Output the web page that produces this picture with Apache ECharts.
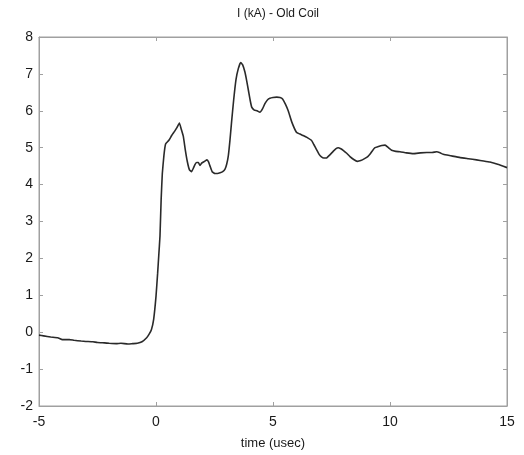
<!DOCTYPE html>
<html>
<head>
<meta charset="utf-8">
<script src="https://cdn.jsdelivr.net/npm/echarts@6/dist/echarts.min.js"></script>
<style>html,body{margin:0;padding:0;background:#fff;}#c{width:524px;height:455px;}</style>
</head>
<body>
<div id="c"></div>
<script>
var titleText = "I (kA) - Old Coil";
var xName = "time (usec)";
var timeUs = [-5,-4.8,-4.5,-4.2,-4.0,-3.7,-3.5,-3.2,-3.0,-2.7,-2.5,-2.2,-2.0,-1.7,-1.5,-1.2,-1.0,-0.8,-0.6,-0.4,-0.3,-0.2,-0.1,0,0.07,0.12,0.17,0.22,0.27,0.34,0.41,0.55,0.67,0.8,0.9,1.0,1.08,1.17,1.25,1.34,1.43,1.52,1.6,1.67,1.74,1.81,1.88,1.95,2.05,2.17,2.24,2.31,2.4,2.52,2.63,2.74,2.85,2.95,3.02,3.09,3.16,3.23,3.32,3.42,3.52,3.62,3.7,3.8,3.88,3.95,4.02,4.09,4.2,4.32,4.44,4.55,4.66,4.77,4.87,5.0,5.16,5.3,5.41,5.53,5.65,5.8,6.0,6.15,6.29,6.45,6.64,6.75,6.86,6.97,7.07,7.17,7.28,7.42,7.57,7.68,7.79,7.9,8.0,8.15,8.29,8.45,8.6,8.75,8.93,9.05,9.15,9.25,9.36,9.5,9.65,9.79,9.93,10.07,10.25,10.43,10.7,11.0,11.3,11.57,11.8,12.0,12.14,12.28,12.6,13.0,13.35,13.7,14.0,14.27,14.6,15.0];
var currentKA = [-0.08,-0.10,-0.13,-0.15,-0.20,-0.20,-0.22,-0.24,-0.25,-0.26,-0.28,-0.29,-0.30,-0.31,-0.30,-0.32,-0.31,-0.30,-0.26,-0.15,-0.06,0.06,0.35,0.97,1.6,2.1,2.6,3.6,4.3,4.8,5.1,5.2,5.33,5.45,5.55,5.67,5.5,5.3,4.95,4.62,4.4,4.35,4.45,4.55,4.6,4.6,4.52,4.58,4.62,4.67,4.62,4.5,4.35,4.3,4.3,4.32,4.35,4.42,4.55,4.78,5.2,5.7,6.3,6.85,7.15,7.31,7.25,7.05,6.8,6.55,6.3,6.1,6.02,6.0,5.96,6.05,6.2,6.3,6.34,6.36,6.37,6.36,6.32,6.18,6.0,5.7,5.42,5.37,5.33,5.28,5.2,5.08,4.95,4.82,4.75,4.72,4.72,4.8,4.9,4.97,5.0,4.97,4.93,4.85,4.76,4.68,4.63,4.65,4.71,4.76,4.83,4.92,5.0,5.03,5.06,5.07,5.0,4.93,4.9,4.89,4.86,4.84,4.86,4.87,4.87,4.89,4.86,4.82,4.78,4.73,4.70,4.67,4.64,4.61,4.55,4.46];
var xTicks = [-5, 0, 5, 10, 15];
var yTicks = [-2, -1, 0, 1, 2, 3, 4, 5, 6, 7, 8];

var pairs = timeUs.map(function (t, i) { return [t, currentKA[i]]; });
var axisGray = '#a0a0a0';
var labelCol = '#1a1a1a';
var font = 'Liberation Sans, Arial, sans-serif';

var chart = echarts.init(document.getElementById('c'), null, {renderer: 'canvas'});
function xa(pos, showLabel) {
  return {
    type: 'value', position: pos, min: xTicks[0], max: xTicks[xTicks.length - 1], interval: 5,
    axisLine: {show: true, onZero: false, lineStyle: {color: axisGray, width: 1}},
    axisTick: {show: true, inside: true, length: 4, lineStyle: {color: axisGray, width: 1}},
    axisLabel: {show: showLabel, color: labelCol, fontSize: 14, fontFamily: font, margin: 9},
    splitLine: {show: false},
    name: showLabel ? xName : '', nameLocation: 'middle', nameGap: 31,
    nameTextStyle: {color: labelCol, fontSize: 13, fontFamily: font}
  };
}
function ya(pos, showLabel) {
  return {
    type: 'value', position: pos, min: yTicks[0], max: yTicks[yTicks.length - 1], interval: 1,
    axisLine: {show: true, onZero: false, lineStyle: {color: axisGray, width: 1}},
    axisTick: {show: true, inside: true, length: 4, lineStyle: {color: axisGray, width: 1}},
    axisLabel: {show: showLabel, color: labelCol, fontSize: 14, fontFamily: font, margin: 6},
    splitLine: {show: false}
  };
}
chart.setOption({
  animation: false,
  backgroundColor: '#fff',
  title: {text: titleText, left: 273, top: 3, textAlign: 'center',
    textStyle: {color: labelCol, fontSize: 12, fontWeight: 'normal', fontFamily: font}},
  grid: {left: 39, right: 17, top: 37, bottom: 44, containLabel: false,
    show: true, borderColor: axisGray, borderWidth: 1, backgroundColor: 'transparent'},
  xAxis: [xa('bottom', true), xa('top', false)],
  yAxis: [ya('left', true), ya('right', false)],
  series: [{
    type: 'line', data: pairs, xAxisIndex: 0, yAxisIndex: 0,
    showSymbol: false, smooth: 0.12,
    lineStyle: {color: '#2a2a2a', width: 1.6}
  }]
});
</script>
</body>
</html>
